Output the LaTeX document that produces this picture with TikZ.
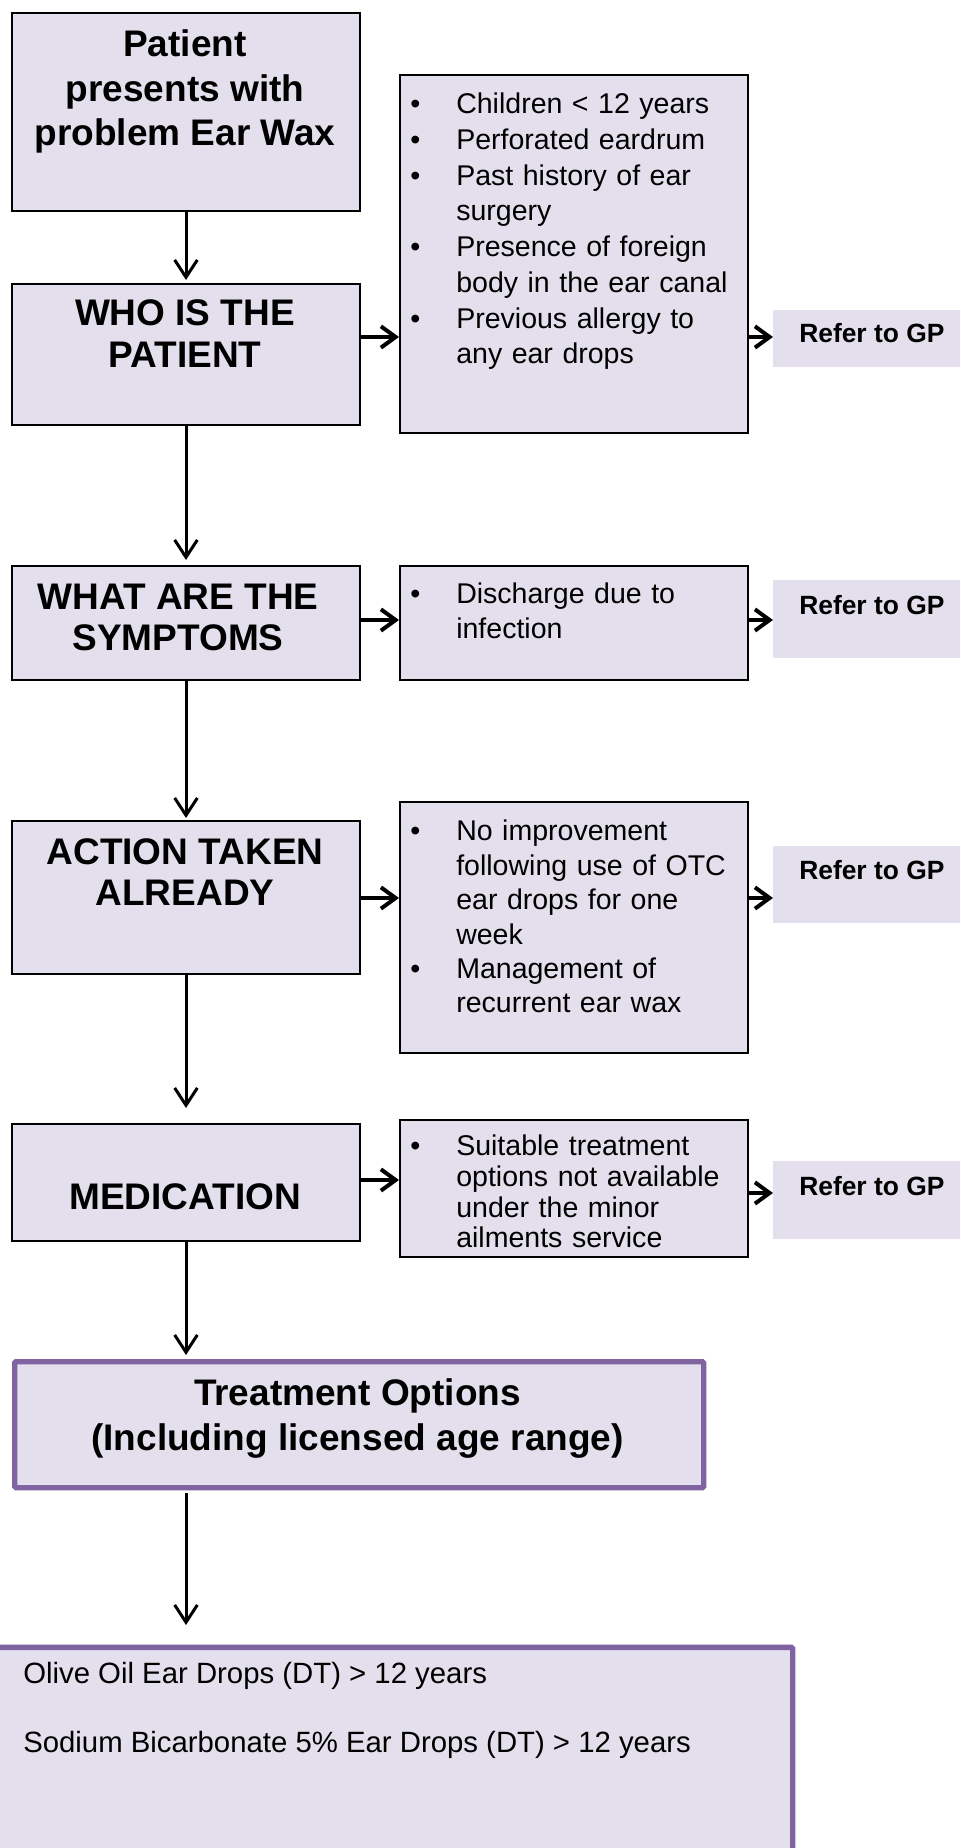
\documentclass[tikz,border=0pt]{standalone}
\usepackage{fontspec}
\setmainfont{Liberation Sans}
\usetikzlibrary{arrows.meta}
\definecolor{wxfill}{HTML}{E4DFEC}
\definecolor{wxpurple}{HTML}{8064A2}
\newcommand{\wxbig}[1]{\fontsize{27.75}{#1}\selectfont\bfseries}
\newcommand{\wxlist}[1]{\fontsize{21.4}{#1}\selectfont}
\newcommand{\wxgp}{\fontsize{19.8}{24}\selectfont\bfseries}
\newcommand{\wxdrop}{\fontsize{22}{26}\selectfont}
\newcommand{\wxhang}{34.5pt}
% one bullet paragraph, hanging indent kept up to its own \par
\newcommand{\wxitem}[1]{\noindent\hangindent=\wxhang\hangafter=1\makebox[\wxhang][l]{\textbullet}#1\par}
\newcommand{\wxbxw}{261pt}

\begin{document}
\begin{tikzpicture}[x=1pt, y=-1pt,
    panel/.style={draw, line width=1.5pt, fill=wxfill, anchor=north west, inner sep=0pt},
    optbox/.style={draw=wxpurple, line width=4pt, fill=wxfill, rounded corners=1pt, anchor=north west, inner sep=0pt},
    gpbox/.style={fill=wxfill, anchor=north west, inner sep=0pt, minimum width=150pt},
    bigtxt/.style={anchor=north, align=center, inner sep=0pt},
    listtxt/.style={anchor=north west, align=left, inner sep=0pt, text width=250pt},
    gptxt/.style={anchor=base west, inner sep=0pt, font=\wxgp},
    droptxt/.style={anchor=base west, inner sep=0pt, font=\wxdrop},
    vflow/.style={line width=2.25pt, -{Straight Barb[length=13pt,width=17pt]}, shorten >=2pt},
    hflow/.style={line width=3pt, -{Straight Barb[length=11pt,width=16pt]}}]

    \clip (0,0) rectangle (720,1386);

    % left column
    \node[panel, minimum width=\wxbxw, minimum height=148.5pt] (pat) at (8.25,9) {};
    \node[panel, minimum width=\wxbxw, minimum height=105.75pt] (who) at (8.25,212.25) {};
    \node[panel, minimum width=\wxbxw, minimum height=85.5pt] (what) at (8.25,423.75) {};
    \node[panel, minimum width=\wxbxw, minimum height=114.75pt] (act) at (8.25,615) {};
    \node[panel, minimum width=\wxbxw, minimum height=87.75pt] (med) at (8.25,842.25) {};

    \node[bigtxt, font={\wxbig{33.4}}] (pattxt) at (138.75,22.3) {Patient\\presents with\\problem Ear Wax};
    \node[bigtxt, font={\wxbig{31.5}}] (whotxt) at (138.75,224.8) {WHO IS THE\\PATIENT};
    \node[bigtxt, font={\wxbig{30.75}}] (whattxt) at (133.5,437.8) {WHAT ARE THE\\SYMPTOMS};
    \node[bigtxt, font={\wxbig{30.75}}] (acttxt) at (138.75,629.1) {ACTION TAKEN\\ALREADY};
    \node[bigtxt, font={\wxbig{30.75}}] (medtxt) at (138.75,887.8) {MEDICATION};

    % criteria
    \node[panel, minimum width=\wxbxw, minimum height=268.5pt] (crit1) at (299.25,55.5) {};
    \node[panel, minimum width=\wxbxw, minimum height=85.5pt] (crit2) at (299.25,423.75) {};
    \node[panel, minimum width=\wxbxw, minimum height=188.25pt] (crit3) at (299.25,600.75) {};
    \node[panel, minimum width=\wxbxw, minimum height=102.75pt] (crit4) at (299.25,839.25) {};

    \node[listtxt, font={\wxlist{26.8}}] (crit1txt) at (307.5,69.6) {%
      \wxitem{Children < 12 years}%
      \wxitem{Perforated eardrum}%
      \wxitem{Past history of ear\newline surgery}%
      \wxitem{Presence of foreign\newline body in the ear canal}%
      \wxitem{Previous allergy to\newline any ear drops}};
    \node[listtxt, font={\wxlist{26.25}}] (crit2txt) at (307.5,437.1) {%
      \wxitem{Discharge due to\newline infection}};
    \node[listtxt, font={\wxlist{25.8}}] (crit3txt) at (307.5,614.9) {%
      \wxitem{No improvement\newline following use of OTC\newline ear drops for one\newline week}%
      \wxitem{Management of\newline recurrent ear wax}};
    \node[listtxt, font={\wxlist{23}}] (crit4txt) at (307.5,851.1) {%
      \wxitem{Suitable treatment\newline options not available\newline under the minor\newline ailments service}};

    % refer to GP
    \node[gpbox, minimum height=42.75pt] (gp1) at (579.75,232.5) {};
    \node[gpbox, minimum height=58.5pt] (gp2) at (579.75,435) {};
    \node[gpbox, minimum height=57.75pt] (gp3) at (579.75,634.5) {};
    \node[gpbox, minimum height=58.5pt] (gp4) at (579.75,870.75) {};
    \node[gptxt] (gp1txt) at (599.25,256.9) {Refer to GP};
    \node[gptxt] (gp2txt) at (599.25,460.9) {Refer to GP};
    \node[gptxt] (gp3txt) at (599.25,659.6) {Refer to GP};
    \node[gptxt] (gp4txt) at (599.25,896.6) {Refer to GP};

    % treatment
    \node[optbox, minimum width=516.75pt, minimum height=94.5pt] (trt) at (9,1019.25) {};
    \node[bigtxt, font={\wxbig{33.75}}] (trttxt) at (268.1,1034.1) {Treatment Options\\(Including licensed age range)};
    \node[optbox, minimum width=602.5pt, minimum height=170pt] (drops) at (-10,1233.5) {};
    \node[droptxt] (olive) at (17.25,1262.6) {Olive Oil Ear Drops (DT) > 12 years};
    \node[droptxt] (soda) at (17.25,1314.4) {Sodium Bicarbonate 5\% Ear Drops (DT) > 12 years};

    \coordinate (row1) at (0,252.75);
    \coordinate (row2) at (0,465);
    \coordinate (row3) at (0,673.5);
    \coordinate (row4) at (0,885);
    \coordinate (row4b) at (0,894.75);

    \draw[vflow, shorten >=2.25pt] (pat) -- (who);
    \draw[vflow, shorten >=3.75pt] (who) -- (what);
    \draw[vflow, shorten >=1.5pt] (what) -- (act);
    \draw[vflow, shorten >=11.25pt] (act) -- (med);
    \draw[vflow, shorten >=3pt] (med.south) -- (med.south |- trt.north);
    \draw[vflow, shorten <=2pt, shorten >=14.75pt] (med.south |- trt.south) -- (med.south |- drops.north);

    \draw[hflow] (who.east |- row1) -- (crit1.west |- row1);
    \draw[hflow] (crit1.east |- row1) -- (gp1.west |- row1);
    \draw[hflow] (what.east |- row2) -- (crit2.west |- row2);
    \draw[hflow] (crit2.east |- row2) -- (gp2.west |- row2);
    \draw[hflow] (act.east |- row3) -- (crit3.west |- row3);
    \draw[hflow] (crit3.east |- row3) -- (gp3.west |- row3);
    \draw[hflow] (med.east |- row4) -- (crit4.west |- row4);
    \draw[hflow] (crit4.east |- row4b) -- (gp4.west |- row4b);

\end{tikzpicture}
\end{document}
